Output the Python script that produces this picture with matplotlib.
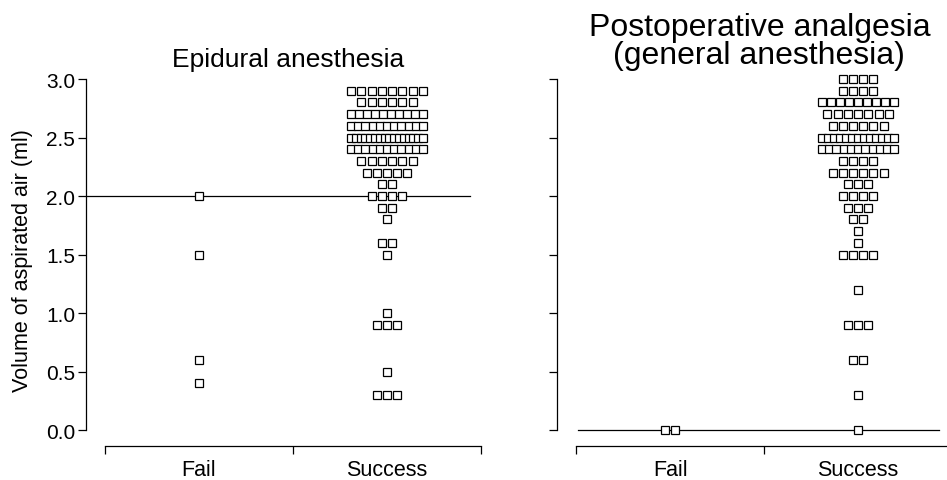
import matplotlib.pyplot as plt
import numpy as np

plt.rcParams['font.family'] = ['Liberation Sans', 'DejaVu Sans']

# counts of squares per value (ml)
epi_fail_vals = [2.0, 1.5, 0.6, 0.4]
epi_fail_counts = [1, 1, 1, 1]
epi_succ_vals = [2.9, 2.8, 2.7, 2.6, 2.5, 2.4, 2.3, 2.2, 2.1, 2.0, 1.9, 1.8,
                 1.6, 1.5, 1.0, 0.9, 0.5, 0.3]
epi_succ_counts = [8, 6, 10, 11, 16, 11, 6, 5, 2, 4, 2, 1, 2, 1, 1, 3, 1, 3]

post_fail_vals = [0.0]
post_fail_counts = [2]
post_succ_vals = [3.0, 2.9, 2.8, 2.7, 2.6, 2.5, 2.4, 2.3, 2.2, 2.1, 2.0, 1.9,
                  1.8, 1.7, 1.6, 1.5, 1.2, 0.9, 0.6, 0.3, 0.0]
post_succ_counts = [4, 4, 9, 7, 6, 13, 11, 4, 6, 3, 4, 3, 2, 1, 1, 4, 1, 3, 2, 1, 1]

categories = ['Fail', 'Success']
titles = ['Epidural anesthesia', 'Postoperative analgesia\n(general anesthesia)']
cutoffs = [2.0, 0.0]

W, H = 947, 481
fig = plt.figure(figsize=(W / 100, H / 100), dpi=100)

XL = (0.4, 2.55)
YL = (-0.14, 3.05)
ax_w = 404.2
ax_h = 373.2
bottom = H - 447.4
lefts = [86.2, 557.3]

STEP = 0.0543      # natural spacing between squares (data units)
MAXSPAN = 0.383    # widest a row may get


def stack(ax, xc, vals, counts):
    for v, n in zip(vals, counts):
        step = STEP if n < 2 else min(STEP, MAXSPAN / (n - 1))
        xs = xc + (np.arange(n) - (n - 1) / 2) * step
        ax.plot(xs, [v] * n, 's', ms=5.4, mfc='white', mec='black', mew=0.9,
                linestyle='none', zorder=3)


panels = [
    ((epi_fail_vals, epi_fail_counts), (epi_succ_vals, epi_succ_counts)),
    ((post_fail_vals, post_fail_counts), (post_succ_vals, post_succ_counts)),
]
hlines = [(0.394, 2.44), (0.51, 2.43)]
title_sizes = [19, 23]
title_pads = [5, 7]

for i, (fail, succ) in enumerate(panels):
    ax = fig.add_axes([lefts[i] / W, bottom / H, ax_w / W, ax_h / H])
    ax.set_xlim(*XL)
    ax.set_ylim(*YL)
    ax.plot(hlines[i], [cutoffs[i]] * 2, color='black', lw=0.9, zorder=2)
    stack(ax, 1, *fail)
    stack(ax, 2, *succ)

    for s in ['top', 'right']:
        ax.spines[s].set_visible(False)
    ax.spines['left'].set_bounds(0, 3)
    ax.spines['bottom'].set_bounds(0.5, 2.5)
    ax.spines['left'].set_linewidth(0.9)
    ax.spines['bottom'].set_linewidth(0.9)

    ax.set_yticks(np.arange(0, 3.01, 0.5))
    ax.tick_params(axis='y', length=6, width=0.9, labelsize=15, pad=2)
    if i == 0:
        ax.set_yticklabels([f'{t:.1f}' for t in np.arange(0, 3.01, 0.5)])
        ax.set_ylabel('Volume of aspirated air (ml)', fontsize=15.5, labelpad=9)
    else:
        ax.set_yticklabels([])

    ax.set_xticks([0.5, 1.5, 2.5])
    ax.set_xticklabels([])
    ax.tick_params(axis='x', which='major', length=6, width=0.9)
    ax.set_xticks([1, 2], minor=True)
    ax.set_xticklabels(categories, minor=True, fontsize=15.5)
    ax.tick_params(axis='x', which='minor', length=0, pad=9)

    ax.set_title(titles[i], fontsize=title_sizes[i], pad=title_pads[i],
                 linespacing=0.95)

fig.savefig('out.png', dpi=100)
